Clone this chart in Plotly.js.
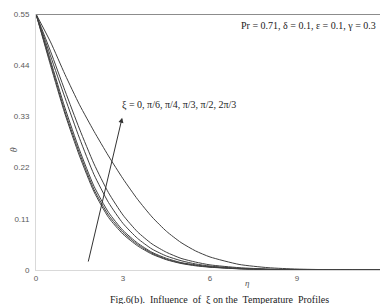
<!DOCTYPE html>
<html>
<head>
<meta charset="utf-8">
<script src="https://cdn.plot.ly/plotly-3.0.1.min.js"></script>
<style>html,body{margin:0;padding:0;background:#fff;}#chart{width:380px;height:304px;}</style>
</head>
<body>
<div id="chart"></div>
<script>
const eta = [0,0.5,1,1.5,2,2.5,3,3.5,4,4.5,5,5.5,6,7,8,9,10,11,12];
const theta_xi0    = [0.55,0.44,0.335,0.245,0.168,0.113,0.077,0.052,0.034,0.022,0.014,0.009,0.006,0.0025,0.001,0.0004,0,0,0];
const theta_xiPi6  = [0.55,0.445,0.34,0.251,0.173,0.118,0.081,0.055,0.036,0.023,0.015,0.01,0.0065,0.0028,0.0011,0.0004,0,0,0];
const theta_xiPi4  = [0.55,0.45,0.348,0.258,0.18,0.124,0.085,0.058,0.038,0.025,0.016,0.011,0.007,0.003,0.0012,0.0005,0,0,0];
const theta_xiPi3  = [0.55,0.46,0.37,0.283,0.205,0.145,0.1,0.068,0.045,0.03,0.02,0.013,0.0085,0.0036,0.0015,0.0006,0.0002,0,0];
const theta_xiPi2  = [0.55,0.47,0.385,0.303,0.228,0.166,0.118,0.082,0.056,0.038,0.025,0.017,0.011,0.005,0.002,0.0008,0.0003,0,0];
const theta_xi2Pi3 = [0.55,0.49,0.42,0.355,0.298,0.245,0.196,0.152,0.114,0.083,0.059,0.041,0.028,0.012,0.005,0.002,0.0008,0.0002,0];
const seriesNames = ['ξ = 0','ξ = π/6','ξ = π/4','ξ = π/3','ξ = π/2','ξ = 2π/3'];
const seriesData = [theta_xi0, theta_xiPi6, theta_xiPi4, theta_xiPi3, theta_xiPi2, theta_xi2Pi3];
const yTicks = [0,0.11,0.22,0.33,0.44,0.55];
const yTickText = ['0','0.11','0.22','0.33','0.44','0.55'];
const xTicks = [0,3,6,9];
const xTickText = ['0','3','6','9'];

const traces = seriesData.map((d,i)=>({
  x: eta, y: d, name: seriesNames[i], type:'scatter', mode:'lines',
  line:{color:'#404040', width:1, shape:'spline', smoothing:0.6},
  hoverinfo:'none', showlegend:false
}));

const serif = 'Liberation Serif, Times New Roman, serif';
const layout = {
  width:380, height:304,
  margin:{l:36, r:0, t:14, b:34},
  paper_bgcolor:'#fff', plot_bgcolor:'#fff',
  showlegend:false,
  xaxis:{range:[0,11.86], tickvals:xTicks, ticktext:xTickText, showgrid:false, zeroline:false,
    showline:true, linecolor:'#d9d9d9', linewidth:1, ticks:'', 
    tickfont:{family:'Liberation Sans, Arial, sans-serif', size:8, color:'#595959'}, fixedrange:true},
  yaxis:{range:[0,0.55], tickvals:yTicks, ticktext:yTickText, showgrid:false, zeroline:false,
    showline:true, linecolor:'#d9d9d9', linewidth:1, ticks:'', ticklabelstandoff:4,
    tickfont:{family:'Liberation Sans, Arial, sans-serif', size:8, color:'#595959'}, fixedrange:true},
  shapes:[{type:'line', xref:'paper', yref:'y', x0:0, x1:1, y0:0.55, y1:0.55, line:{color:'#8c8c8c', width:2}}],
  annotations:[
    {xref:'paper', yref:'paper', x:0.995, y:0.955, xanchor:'right', yanchor:'middle', showarrow:false,
     text:'Pr = 0.71, δ = 0.1, ε = 0.1, γ = 0.3', font:{family:serif, size:10, color:'#222'}},
    {xref:'x', yref:'y', x:2.9, y:0.354, xanchor:'left', yanchor:'middle', showarrow:false,
     text:'ξ = 0, π/6, π/4, π/3, π/2, 2π/3', font:{family:serif, size:10, color:'#222'}},
    {xref:'x', yref:'y', x:2.97, y:0.327, axref:'x', ayref:'y', ax:1.79, ay:0.015,
     showarrow:true, arrowhead:2, arrowsize:1, arrowwidth:1, arrowcolor:'#333', text:''},
    {xref:'paper', yref:'paper', x:(247-36)/344, y:-0.025, xanchor:'center', yanchor:'top', showarrow:false,
     text:'<i>η</i>', font:{family:serif, size:9, color:'#555'}},
    {xref:'paper', yref:'paper', x:-0.065, y:0.47, xanchor:'center', yanchor:'middle', showarrow:false, textangle:-90,
     text:'<i>θ</i>', font:{family:serif, size:10, color:'#555'}},
    {xref:'paper', yref:'paper', x:(220-36)/344, y:-0.085, xanchor:'center', yanchor:'top', showarrow:false,
     text:'Fig.6(b).  Influence  of  ξ on the  Temperature  Profiles', font:{family:serif, size:10, color:'#222'}}
  ]
};
Plotly.newPlot('chart', traces, layout, {displayModeBar:false, staticPlot:true});
</script>
</body>
</html>
